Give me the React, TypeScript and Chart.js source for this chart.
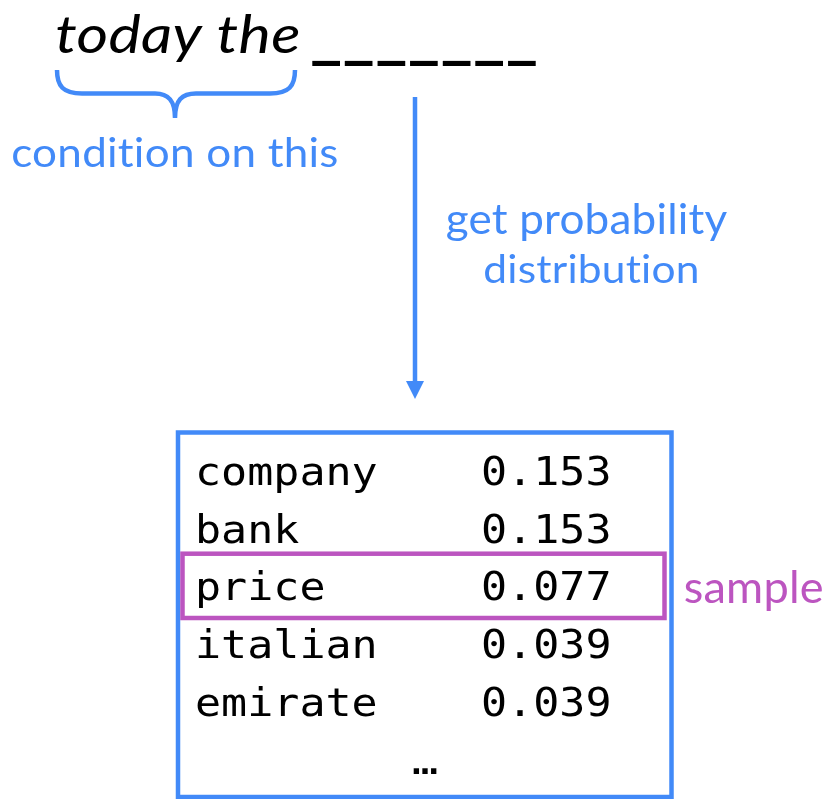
import React, { useEffect, useRef } from 'react';
import { Chart, registerables } from 'chart.js';

Chart.register(...registerables);

// ---- data ----
const words = ['company', 'bank', 'price', 'italian', 'emirate'];
const probabilities = [0.153, 0.153, 0.077, 0.039, 0.039];
const sampledIndex = 2;
const contextText = 'today the';
const blankText = '_______';
const braceLabel = 'condition on this';
const arrowLabel = ['get probability', 'distribution'];
const sampleLabel = 'sample';
const moreLabel = '…';

// ---- style / layout ----
const BLUE = '#428AF8';
const PURPLE = '#BC55C0';
const SANS = 'Lato, "Open Sans", sans-serif';
const MONO = '"DejaVu Sans Mono", "Liberation Mono", monospace';
const MONO_SIZE = 39;
const MONO_ADVANCE = 26.1;
const W = 829;
const H = 799;
const ROW_FIRST = 485;
const ROW_STEP = 57.7;
const COL_WORD = 195;
const COL_PROB = 481;

// map the ink box of a text onto a target box (left, right, top, bottom/baseline)
function drawInk(
  ctx: CanvasRenderingContext2D,
  text: string,
  style: string,
  family: string,
  l: number,
  r: number,
  t: number,
  b: number,
  mode: 'baseline' | 'ink' = 'baseline'
) {
  ctx.save();
  ctx.font = `${style} 100px ${family}`;
  (ctx as any).letterSpacing = '0.5px';
  ctx.textAlign = 'left';
  ctx.textBaseline = 'alphabetic';
  const m = ctx.measureText(text);
  const inkL = -m.actualBoundingBoxLeft;
  const inkR = m.actualBoundingBoxRight;
  const inkT = -m.actualBoundingBoxAscent;
  const inkB = mode === 'ink' ? m.actualBoundingBoxDescent : 0;
  const sx = (r - l) / (inkR - inkL);
  const sy = (b - t) / (inkB - inkT);
  ctx.translate(l - inkL * sx, t - inkT * sy);
  ctx.scale(sx, sy);
  ctx.fillText(text, 0, 0);
  ctx.restore();
}

// monospace text widened horizontally to the reference advance
function drawMono(ctx: CanvasRenderingContext2D, text: string, x: number, y: number, align: CanvasTextAlign = 'left') {
  ctx.save();
  ctx.font = `${MONO_SIZE}px ${MONO}`;
  ctx.textAlign = align;
  ctx.textBaseline = 'alphabetic';
  const k = MONO_ADVANCE / (0.602 * MONO_SIZE);
  ctx.translate(x, y);
  ctx.scale(k, 1);
  ctx.fillText(text, 0, 0);
  ctx.restore();
}

const diagramPlugin = {
  id: 'diagram',
  afterDatasetsDraw(chart: any) {
    const ctx: CanvasRenderingContext2D = chart.ctx;
    const sx = chart.scales.x;
    const sy = chart.scales.y;
    const X = (v: number) => sx.getPixelForValue(v);
    const Y = (v: number) => sy.getPixelForValue(v);
    const R = (v: number) => chart.scales.yRow.getPixelForValue(v);

    ctx.save();

    // context text and blank
    ctx.fillStyle = '#000';
    drawInk(ctx, contextText, 'italic', SANS, X(57), X(298), Y(15), Y(53));
    drawInk(ctx, blankText, 'normal', SANS, X(312), X(536), Y(60), Y(66), 'ink');

    // brace
    ctx.strokeStyle = BLUE;
    ctx.lineWidth = 4.5;
    ctx.lineCap = 'butt';
    ctx.beginPath();
    ctx.moveTo(X(57), Y(70));
    ctx.bezierCurveTo(X(57), Y(86), X(63), Y(93.5), X(82), Y(93.5));
    ctx.lineTo(X(155), Y(93.5));
    ctx.bezierCurveTo(X(168), Y(93.5), X(175), Y(100), X(175), Y(118));
    ctx.moveTo(X(295), Y(70));
    ctx.bezierCurveTo(X(295), Y(86), X(289), Y(93.5), X(270), Y(93.5));
    ctx.lineTo(X(196), Y(93.5));
    ctx.bezierCurveTo(X(182), Y(93.5), X(175), Y(100), X(175), Y(118));
    ctx.stroke();

    ctx.fillStyle = BLUE;
    drawInk(ctx, braceLabel, 'normal', SANS, X(13), X(337), Y(137), Y(167));

    // arrow
    ctx.lineWidth = 4.5;
    ctx.beginPath();
    ctx.moveTo(X(415), Y(97));
    ctx.lineTo(X(415), Y(386));
    ctx.stroke();
    ctx.beginPath();
    ctx.moveTo(X(406), Y(381));
    ctx.lineTo(X(424), Y(381));
    ctx.lineTo(X(415), Y(399));
    ctx.closePath();
    ctx.fill();

    drawInk(ctx, arrowLabel[0], 'normal', SANS, X(447), X(727), Y(203), Y(234));
    drawInk(ctx, arrowLabel[1], 'normal', SANS, X(485), X(697), Y(254), Y(283));

    // box
    ctx.lineWidth = 4.5;
    ctx.strokeRect(X(178), Y(432.5), X(671.5) - X(178), Y(797) - Y(432.5));

    // table text
    ctx.fillStyle = '#000';
    const wordMeta = chart.getDatasetMeta(0);
    const probMeta = chart.getDatasetMeta(1);
    wordMeta.data.forEach((el: any, i: number) => {
      drawMono(ctx, words[i], el.x, el.y);
    });
    probMeta.data.forEach((el: any, i: number) => {
      drawMono(ctx, probabilities[i].toFixed(3), el.x, el.y);
    });
    drawMono(ctx, moreLabel, X(425), R(words.length), 'center');

    // sampled highlight
    const by = R(sampledIndex);
    ctx.strokeStyle = PURPLE;
    ctx.lineWidth = 4.5;
    ctx.strokeRect(X(182.5), by - 46.7, X(664.5) - X(182.5), 64.3);
    ctx.fillStyle = PURPLE;
    drawInk(ctx, sampleLabel, 'normal', SANS, X(685), X(822), by - 31, by + 2.5);

    ctx.restore();
  },
};

export default function App() {
  const ref = useRef<HTMLCanvasElement | null>(null);

  useEffect(() => {
    document.body.style.margin = '0';
    const canvas = ref.current;
    if (!canvas) return;
    const chart = new Chart(canvas, {
      type: 'scatter',
      data: {
        datasets: [
          {
            label: 'word',
            data: words.map((_, i) => ({ x: COL_WORD, y: i })),
            xAxisID: 'x',
            yAxisID: 'yRow',
            pointRadius: 0,
            pointHoverRadius: 0,
          },
          {
            label: 'probability',
            data: probabilities.map((_, i) => ({ x: COL_PROB, y: i })),
            xAxisID: 'x',
            yAxisID: 'yRow',
            pointRadius: 0,
            pointHoverRadius: 0,
          },
        ],
      },
      options: {
        responsive: false,
        animation: false,
        layout: { padding: 0 },
        plugins: { legend: { display: false }, tooltip: { enabled: false } },
        events: [],
        scales: {
          x: { type: 'linear', axis: 'x', min: 0, max: W, display: false },
          y: { type: 'linear', axis: 'y', min: 0, max: H, reverse: true, display: false },
          yRow: {
            type: 'linear',
            axis: 'y',
            min: -ROW_FIRST / ROW_STEP,
            max: (H - ROW_FIRST) / ROW_STEP,
            reverse: true,
            display: false,
          },
        },
      },
      plugins: [diagramPlugin],
    });
    return () => chart.destroy();
  }, []);

  return (
    <div style={{ position: 'absolute', left: 0, top: 0, width: W, height: H, background: '#fff' }}>
      <canvas ref={ref} width={W} height={H} />
    </div>
  );
}
